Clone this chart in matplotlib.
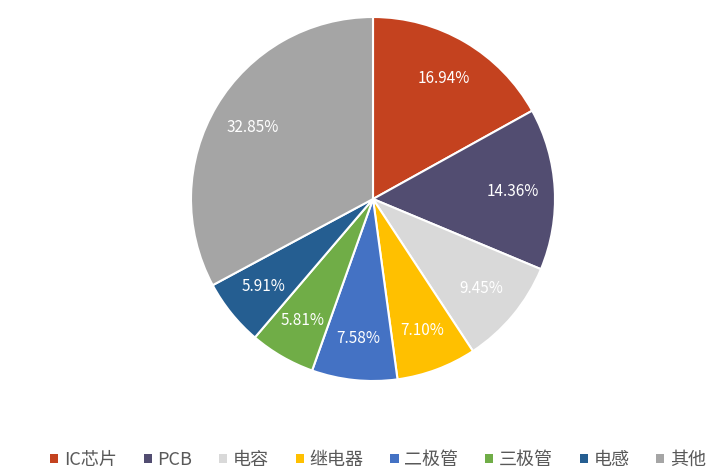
import matplotlib.pyplot as plt
from matplotlib.patches import Patch

plt.rcParams['font.family'] = ['Noto Sans CJK SC', 'DejaVu Sans']

labels = ["IC芯片", "PCB", "电容", "继电器", "二极管", "三极管", "电感", "其他"]
shares = [16.94, 14.36, 9.45, 7.10, 7.58, 5.81, 5.91, 32.85]
colors = ["#C4421F", "#524D71", "#D9D9D9", "#FFC000", "#4472C4", "#70AD47", "#255E91", "#A5A5A5"]

fig = plt.figure(figsize=(7.2, 4.74), dpi=100)
r = 182
cx, cy = 373, 474 - 199
ax = fig.add_axes([(cx - r) / 720, (cy - r) / 474, 2 * r / 720, 2 * r / 474])

wedges, texts, autotexts = ax.pie(
    shares, colors=colors, startangle=90, counterclock=False,
    autopct="%.2f%%", pctdistance=0.77, radius=1,
    wedgeprops=dict(edgecolor="white", linewidth=1.5),
    textprops=dict(color="white", fontsize=11),
)
ax.set_xlim(-1, 1)
ax.set_ylim(-1, 1)
ax.set_aspect("equal")

handles = [Patch(facecolor=c, edgecolor="none") for c in colors]
fig.legend(handles, labels, loc="center", bbox_to_anchor=(0.525, 1 - 460 / 474),
           ncol=8, frameon=False, fontsize=13, handlelength=0.45, handleheight=0.45,
           handletextpad=0.3, columnspacing=1.5, labelcolor="#595959")

fig.savefig("out.png", dpi=100)
